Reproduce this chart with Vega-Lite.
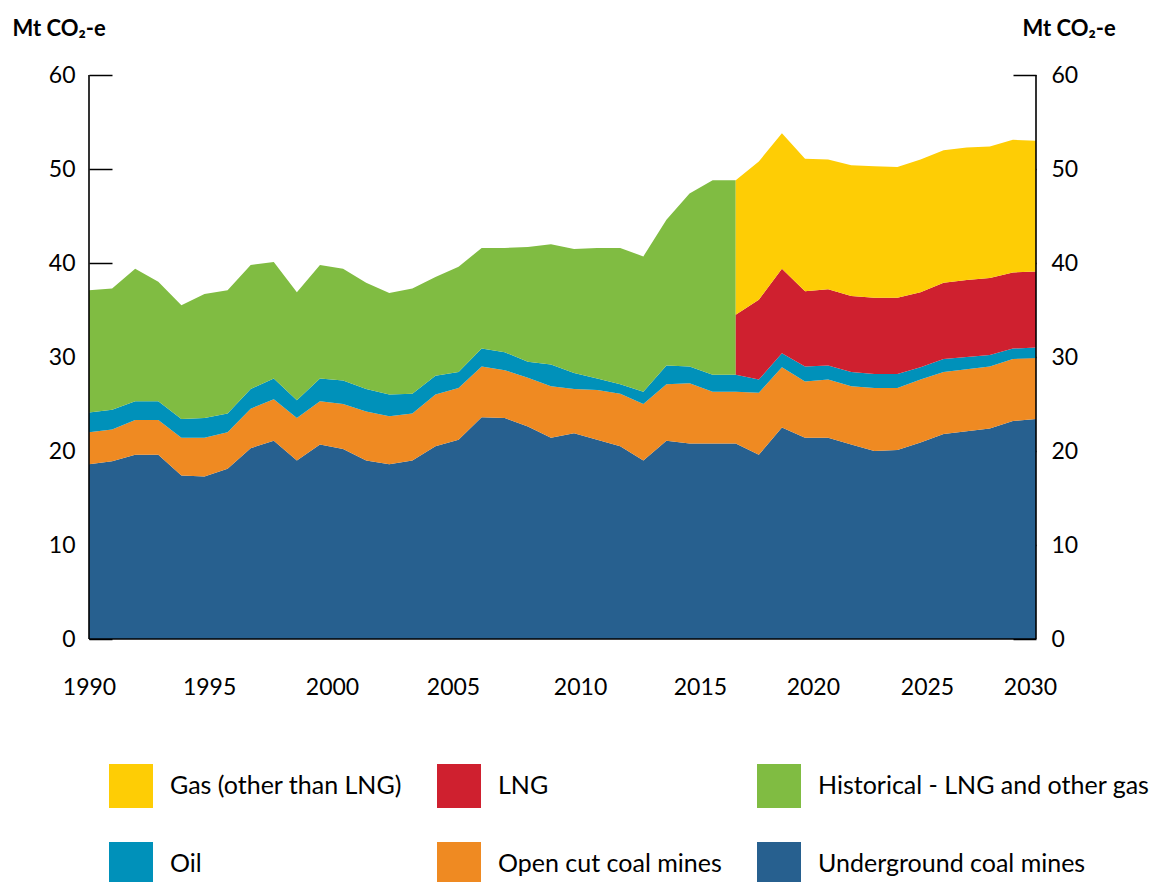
{
"$schema": "https://vega.github.io/schema/vega-lite/v6.json",
"width": 947, "height": 564,
"autosize": {"type": "none"},
"padding": {"left": 89, "top": 75, "right": 127, "bottom": 243},
"background": "white",
"config": {"view": {"stroke": null}, "font": "Lato",
  "axis": {"labelColor": "#000", "titleColor": "#000", "tickColor": "#000", "labelFont": "Lato", "titleFont": "Lato"},
  "legend": {"labelFont": "Lato", "labelColor": "#000"}},
"layer": [
{
"data": {"values": [
{"year":1990,"p":"h","cat":"Underground coal mines","v":18.6},{"year":1990,"p":"h","cat":"Open cut coal mines","v":3.4},{"year":1990,"p":"h","cat":"Oil","v":2.1},{"year":1990,"p":"h","cat":"Historical - LNG and other gas","v":13.0},
{"year":1991,"p":"h","cat":"Underground coal mines","v":18.9},{"year":1991,"p":"h","cat":"Open cut coal mines","v":3.4},{"year":1991,"p":"h","cat":"Oil","v":2.1},{"year":1991,"p":"h","cat":"Historical - LNG and other gas","v":12.9},
{"year":1992,"p":"h","cat":"Underground coal mines","v":19.6},{"year":1992,"p":"h","cat":"Open cut coal mines","v":3.7},{"year":1992,"p":"h","cat":"Oil","v":2.0},{"year":1992,"p":"h","cat":"Historical - LNG and other gas","v":14.1},
{"year":1993,"p":"h","cat":"Underground coal mines","v":19.6},{"year":1993,"p":"h","cat":"Open cut coal mines","v":3.7},{"year":1993,"p":"h","cat":"Oil","v":2.0},{"year":1993,"p":"h","cat":"Historical - LNG and other gas","v":12.7},
{"year":1994,"p":"h","cat":"Underground coal mines","v":17.4},{"year":1994,"p":"h","cat":"Open cut coal mines","v":4.0},{"year":1994,"p":"h","cat":"Oil","v":2.0},{"year":1994,"p":"h","cat":"Historical - LNG and other gas","v":12.1},
{"year":1995,"p":"h","cat":"Underground coal mines","v":17.3},{"year":1995,"p":"h","cat":"Open cut coal mines","v":4.1},{"year":1995,"p":"h","cat":"Oil","v":2.1},{"year":1995,"p":"h","cat":"Historical - LNG and other gas","v":13.2},
{"year":1996,"p":"h","cat":"Underground coal mines","v":18.1},{"year":1996,"p":"h","cat":"Open cut coal mines","v":3.9},{"year":1996,"p":"h","cat":"Oil","v":2.0},{"year":1996,"p":"h","cat":"Historical - LNG and other gas","v":13.1},
{"year":1997,"p":"h","cat":"Underground coal mines","v":20.3},{"year":1997,"p":"h","cat":"Open cut coal mines","v":4.2},{"year":1997,"p":"h","cat":"Oil","v":2.1},{"year":1997,"p":"h","cat":"Historical - LNG and other gas","v":13.2},
{"year":1998,"p":"h","cat":"Underground coal mines","v":21.1},{"year":1998,"p":"h","cat":"Open cut coal mines","v":4.4},{"year":1998,"p":"h","cat":"Oil","v":2.2},{"year":1998,"p":"h","cat":"Historical - LNG and other gas","v":12.4},
{"year":1999,"p":"h","cat":"Underground coal mines","v":19.0},{"year":1999,"p":"h","cat":"Open cut coal mines","v":4.5},{"year":1999,"p":"h","cat":"Oil","v":1.9},{"year":1999,"p":"h","cat":"Historical - LNG and other gas","v":11.5},
{"year":2000,"p":"h","cat":"Underground coal mines","v":20.7},{"year":2000,"p":"h","cat":"Open cut coal mines","v":4.6},{"year":2000,"p":"h","cat":"Oil","v":2.4},{"year":2000,"p":"h","cat":"Historical - LNG and other gas","v":12.1},
{"year":2001,"p":"h","cat":"Underground coal mines","v":20.2},{"year":2001,"p":"h","cat":"Open cut coal mines","v":4.8},{"year":2001,"p":"h","cat":"Oil","v":2.5},{"year":2001,"p":"h","cat":"Historical - LNG and other gas","v":11.9},
{"year":2002,"p":"h","cat":"Underground coal mines","v":19.0},{"year":2002,"p":"h","cat":"Open cut coal mines","v":5.2},{"year":2002,"p":"h","cat":"Oil","v":2.4},{"year":2002,"p":"h","cat":"Historical - LNG and other gas","v":11.3},
{"year":2003,"p":"h","cat":"Underground coal mines","v":18.6},{"year":2003,"p":"h","cat":"Open cut coal mines","v":5.1},{"year":2003,"p":"h","cat":"Oil","v":2.3},{"year":2003,"p":"h","cat":"Historical - LNG and other gas","v":10.8},
{"year":2004,"p":"h","cat":"Underground coal mines","v":19.0},{"year":2004,"p":"h","cat":"Open cut coal mines","v":5.0},{"year":2004,"p":"h","cat":"Oil","v":2.1},{"year":2004,"p":"h","cat":"Historical - LNG and other gas","v":11.2},
{"year":2005,"p":"h","cat":"Underground coal mines","v":20.5},{"year":2005,"p":"h","cat":"Open cut coal mines","v":5.5},{"year":2005,"p":"h","cat":"Oil","v":2.0},{"year":2005,"p":"h","cat":"Historical - LNG and other gas","v":10.5},
{"year":2006,"p":"h","cat":"Underground coal mines","v":21.2},{"year":2006,"p":"h","cat":"Open cut coal mines","v":5.5},{"year":2006,"p":"h","cat":"Oil","v":1.7},{"year":2006,"p":"h","cat":"Historical - LNG and other gas","v":11.2},
{"year":2007,"p":"h","cat":"Underground coal mines","v":23.6},{"year":2007,"p":"h","cat":"Open cut coal mines","v":5.4},{"year":2007,"p":"h","cat":"Oil","v":1.9},{"year":2007,"p":"h","cat":"Historical - LNG and other gas","v":10.7},
{"year":2008,"p":"h","cat":"Underground coal mines","v":23.5},{"year":2008,"p":"h","cat":"Open cut coal mines","v":5.1},{"year":2008,"p":"h","cat":"Oil","v":1.9},{"year":2008,"p":"h","cat":"Historical - LNG and other gas","v":11.1},
{"year":2009,"p":"h","cat":"Underground coal mines","v":22.6},{"year":2009,"p":"h","cat":"Open cut coal mines","v":5.2},{"year":2009,"p":"h","cat":"Oil","v":1.7},{"year":2009,"p":"h","cat":"Historical - LNG and other gas","v":12.2},
{"year":2010,"p":"h","cat":"Underground coal mines","v":21.4},{"year":2010,"p":"h","cat":"Open cut coal mines","v":5.5},{"year":2010,"p":"h","cat":"Oil","v":2.3},{"year":2010,"p":"h","cat":"Historical - LNG and other gas","v":12.8},
{"year":2011,"p":"h","cat":"Underground coal mines","v":21.9},{"year":2011,"p":"h","cat":"Open cut coal mines","v":4.7},{"year":2011,"p":"h","cat":"Oil","v":1.7},{"year":2011,"p":"h","cat":"Historical - LNG and other gas","v":13.2},
{"year":2012,"p":"h","cat":"Underground coal mines","v":21.2},{"year":2012,"p":"h","cat":"Open cut coal mines","v":5.3},{"year":2012,"p":"h","cat":"Oil","v":1.2},{"year":2012,"p":"h","cat":"Historical - LNG and other gas","v":13.9},
{"year":2013,"p":"h","cat":"Underground coal mines","v":20.5},{"year":2013,"p":"h","cat":"Open cut coal mines","v":5.6},{"year":2013,"p":"h","cat":"Oil","v":1.0},{"year":2013,"p":"h","cat":"Historical - LNG and other gas","v":14.5},
{"year":2014,"p":"h","cat":"Underground coal mines","v":19.0},{"year":2014,"p":"h","cat":"Open cut coal mines","v":6.0},{"year":2014,"p":"h","cat":"Oil","v":1.3},{"year":2014,"p":"h","cat":"Historical - LNG and other gas","v":14.4},
{"year":2015,"p":"h","cat":"Underground coal mines","v":21.1},{"year":2015,"p":"h","cat":"Open cut coal mines","v":6.0},{"year":2015,"p":"h","cat":"Oil","v":2.0},{"year":2015,"p":"h","cat":"Historical - LNG and other gas","v":15.5},
{"year":2016,"p":"h","cat":"Underground coal mines","v":20.8},{"year":2016,"p":"h","cat":"Open cut coal mines","v":6.4},{"year":2016,"p":"h","cat":"Oil","v":1.8},{"year":2016,"p":"h","cat":"Historical - LNG and other gas","v":18.4},
{"year":2017,"p":"h","cat":"Underground coal mines","v":20.8},{"year":2017,"p":"h","cat":"Open cut coal mines","v":5.5},{"year":2017,"p":"h","cat":"Oil","v":1.8},{"year":2017,"p":"h","cat":"Historical - LNG and other gas","v":20.7},
{"year":2018,"p":"h","cat":"Underground coal mines","v":20.8},{"year":2018,"p":"h","cat":"Open cut coal mines","v":5.5},{"year":2018,"p":"h","cat":"Oil","v":1.8},{"year":2018,"p":"h","cat":"Historical - LNG and other gas","v":20.7},
{"year":2018,"p":"f","cat":"Underground coal mines","v":20.8},{"year":2018,"p":"f","cat":"Open cut coal mines","v":5.5},{"year":2018,"p":"f","cat":"Oil","v":1.8},{"year":2018,"p":"f","cat":"LNG","v":6.4},{"year":2018,"p":"f","cat":"Gas (other than LNG)","v":14.3},
{"year":2019,"p":"f","cat":"Underground coal mines","v":19.6},{"year":2019,"p":"f","cat":"Open cut coal mines","v":6.6},{"year":2019,"p":"f","cat":"Oil","v":1.4},{"year":2019,"p":"f","cat":"LNG","v":8.5},{"year":2019,"p":"f","cat":"Gas (other than LNG)","v":14.7},
{"year":2020,"p":"f","cat":"Underground coal mines","v":22.5},{"year":2020,"p":"f","cat":"Open cut coal mines","v":6.4},{"year":2020,"p":"f","cat":"Oil","v":1.5},{"year":2020,"p":"f","cat":"LNG","v":9.0},{"year":2020,"p":"f","cat":"Gas (other than LNG)","v":14.4},
{"year":2021,"p":"f","cat":"Underground coal mines","v":21.4},{"year":2021,"p":"f","cat":"Open cut coal mines","v":6.0},{"year":2021,"p":"f","cat":"Oil","v":1.6},{"year":2021,"p":"f","cat":"LNG","v":8.0},{"year":2021,"p":"f","cat":"Gas (other than LNG)","v":14.1},
{"year":2022,"p":"f","cat":"Underground coal mines","v":21.4},{"year":2022,"p":"f","cat":"Open cut coal mines","v":6.2},{"year":2022,"p":"f","cat":"Oil","v":1.5},{"year":2022,"p":"f","cat":"LNG","v":8.1},{"year":2022,"p":"f","cat":"Gas (other than LNG)","v":13.8},
{"year":2023,"p":"f","cat":"Underground coal mines","v":20.7},{"year":2023,"p":"f","cat":"Open cut coal mines","v":6.2},{"year":2023,"p":"f","cat":"Oil","v":1.5},{"year":2023,"p":"f","cat":"LNG","v":8.1},{"year":2023,"p":"f","cat":"Gas (other than LNG)","v":13.9},
{"year":2024,"p":"f","cat":"Underground coal mines","v":20.0},{"year":2024,"p":"f","cat":"Open cut coal mines","v":6.7},{"year":2024,"p":"f","cat":"Oil","v":1.5},{"year":2024,"p":"f","cat":"LNG","v":8.1},{"year":2024,"p":"f","cat":"Gas (other than LNG)","v":14.0},
{"year":2025,"p":"f","cat":"Underground coal mines","v":20.1},{"year":2025,"p":"f","cat":"Open cut coal mines","v":6.6},{"year":2025,"p":"f","cat":"Oil","v":1.5},{"year":2025,"p":"f","cat":"LNG","v":8.1},{"year":2025,"p":"f","cat":"Gas (other than LNG)","v":13.9},
{"year":2026,"p":"f","cat":"Underground coal mines","v":20.9},{"year":2026,"p":"f","cat":"Open cut coal mines","v":6.7},{"year":2026,"p":"f","cat":"Oil","v":1.3},{"year":2026,"p":"f","cat":"LNG","v":8.0},{"year":2026,"p":"f","cat":"Gas (other than LNG)","v":14.1},
{"year":2027,"p":"f","cat":"Underground coal mines","v":21.8},{"year":2027,"p":"f","cat":"Open cut coal mines","v":6.6},{"year":2027,"p":"f","cat":"Oil","v":1.4},{"year":2027,"p":"f","cat":"LNG","v":8.1},{"year":2027,"p":"f","cat":"Gas (other than LNG)","v":14.1},
{"year":2028,"p":"f","cat":"Underground coal mines","v":22.1},{"year":2028,"p":"f","cat":"Open cut coal mines","v":6.6},{"year":2028,"p":"f","cat":"Oil","v":1.3},{"year":2028,"p":"f","cat":"LNG","v":8.2},{"year":2028,"p":"f","cat":"Gas (other than LNG)","v":14.1},
{"year":2029,"p":"f","cat":"Underground coal mines","v":22.4},{"year":2029,"p":"f","cat":"Open cut coal mines","v":6.6},{"year":2029,"p":"f","cat":"Oil","v":1.2},{"year":2029,"p":"f","cat":"LNG","v":8.2},{"year":2029,"p":"f","cat":"Gas (other than LNG)","v":14.0},
{"year":2030,"p":"f","cat":"Underground coal mines","v":23.2},{"year":2030,"p":"f","cat":"Open cut coal mines","v":6.6},{"year":2030,"p":"f","cat":"Oil","v":1.1},{"year":2030,"p":"f","cat":"LNG","v":8.1},{"year":2030,"p":"f","cat":"Gas (other than LNG)","v":14.1},
{"year":2031,"p":"f","cat":"Underground coal mines","v":23.4},{"year":2031,"p":"f","cat":"Open cut coal mines","v":6.5},{"year":2031,"p":"f","cat":"Oil","v":1.1},{"year":2031,"p":"f","cat":"LNG","v":8.1},{"year":2031,"p":"f","cat":"Gas (other than LNG)","v":13.9}
]},
"transform": [{"stack": "v", "groupby": ["year", "p"], "sort": [{"field": "cat", "order": "descending"}], "as": ["y0", "y1"]}],
"mark": {"type": "area", "interpolate": "linear"},
"encoding": {
  "x": {"field": "year", "type": "quantitative", "scale": {"domain": [1990, 2031], "nice": false, "zero": false},
    "axis": {"values": [1990, 1995.2, 2000.52, 2005.76, 2011.26, 2016.45, 2021.34, 2026.28, 2030.74],
      "labelExpr": "format(1990 + 5*round(datum.index*8), 'd')",
      "ticks": false, "domain": false, "grid": false, "labelFontSize": 23, "labelPadding": 37,
      "labelFlush": false, "labelOverlap": false, "title": null, "zindex": 0}},
  "y": {"field": "y0", "type": "quantitative", "scale": {"domain": [0, 60], "nice": false},
    "axis": {"orient": "left", "values": [0, 10, 20, 30, 40, 50, 60], "grid": false, "domain": false,
      "tickSize": -23, "tickWidth": 1.5, "labelPadding": 37, "labelFontSize": 23, "zindex": 0,
      "title": "Mt CO₂-e", "titleAngle": 0, "titleAlign": "left", "titleBaseline": "middle",
      "titleX": -77, "titleY": -47, "titleFontSize": 22, "titleFontWeight": "bold"}},
  "y2": {"field": "y1"},
  "color": {"field": "cat", "type": "nominal",
    "scale": {"domain": ["Gas (other than LNG)", "Oil", "LNG", "Open cut coal mines", "Historical - LNG and other gas", "Underground coal mines"],
      "range": ["#FECD05", "#0091BA", "#CF202F", "#EF8A22", "#80BC42", "#27608F"]},
    "legend": {"orient": "none", "legendX": 20, "legendY": 689, "columns": 3, "title": null,
      "symbolType": "square", "symbolSize": 1936, "symbolStrokeWidth": 0, "symbolOpacity": 1,
      "labelFontSize": 25, "labelOffset": 17, "columnPadding": 35, "rowPadding": 34, "labelLimit": 600}}
}
},
{
"data": {"values": [{}]},
"mark": {"type": "rule", "color": "#000", "strokeWidth": 1.6},
"encoding": {"y": {"datum": 0, "type": "quantitative",
  "axis": {"orient": "right", "values": [0, 10, 20, 30, 40, 50, 60], "grid": false, "domain": false,
    "tickSize": -23, "tickWidth": 1.5, "labelPadding": 38, "labelFontSize": 23, "zindex": 0,
    "title": "Mt CO₂-e", "titleAngle": 0, "titleAlign": "left", "titleBaseline": "middle",
    "titleX": -14, "titleY": -47, "titleFontSize": 22, "titleFontWeight": "bold"}}}
},
{
"data": {"values": [{"year": 1990}, {"year": 2031}]},
"mark": {"type": "rule", "color": "#000", "strokeWidth": 1.6},
"encoding": {"x": {"field": "year", "type": "quantitative",
    "axis": {"values": [1990, 1995.2, 2000.52, 2005.76, 2011.26, 2016.45, 2021.34, 2026.28, 2030.74],
      "labelExpr": "format(1990 + 5*round(datum.index*8), 'd')",
      "ticks": false, "domain": false, "grid": false, "labelFontSize": 23, "labelPadding": 37,
      "labelFlush": false, "labelOverlap": false, "title": null, "zindex": 0}}}
}
],
"resolve": {"axis": {"y": "independent"}}
}
